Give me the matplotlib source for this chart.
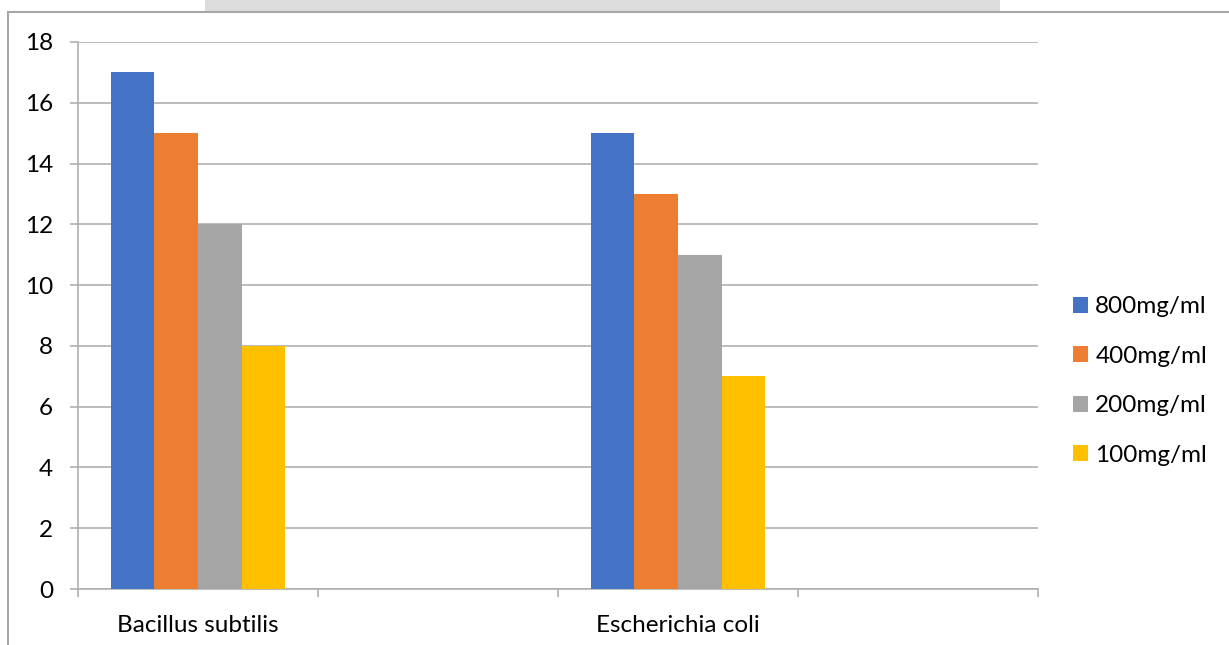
import matplotlib
matplotlib.use("Agg")
import matplotlib.pyplot as plt
from matplotlib.lines import Line2D
from matplotlib.patches import Rectangle, Patch
import numpy as np

categories = ["Bacillus subtilis", "", "Escherichia coli", ""]
series_names = ["800mg/ml", "400mg/ml", "200mg/ml", "100mg/ml"]
values_800 = [17, np.nan, 15, np.nan]
values_400 = [15, np.nan, 13, np.nan]
values_200 = [12, np.nan, 11, np.nan]
values_100 = [8, np.nan, 7, np.nan]
colors = ["#4472C4", "#ED7D31", "#A5A5A5", "#FFC000"]
y_ticks = [0, 2, 4, 6, 8, 10, 12, 14, 16, 18]

plt.rcParams['font.family'] = ['Lato', 'DejaVu Sans']

W, H = 1229, 645
fig = plt.figure(figsize=(W / 100, H / 100), dpi=100)

# decorative frame and watermark band from the source page
fig.add_artist(Rectangle((205 / W, 1 - 12 / H), (1000 - 205) / W, 12 / H,
                         transform=fig.transFigure, color="#dcdcdc", lw=0, zorder=0))
fig.add_artist(Line2D([8 / W, 1], [1 - 12 / H, 1 - 12 / H], transform=fig.transFigure,
                      color="#a6a6a6", lw=1.5))
fig.add_artist(Line2D([8 / W, 8 / W], [0, 1 - 12 / H], transform=fig.transFigure,
                      color="#a6a6a6", lw=1.5))

ax = fig.add_axes([78 / W, 56 / H, (1038 - 78) / W, (589 - 42) / H])

x = np.arange(len(categories))
w = 0.182
series = [values_800, values_400, values_200, values_100]
for i, (vals, c, name) in enumerate(zip(series, colors, series_names)):
    ax.bar(x + (i - 1.5) * w, vals, width=w, color=c, label=name, zorder=3, linewidth=0)

ax.set_xlim(-0.5, len(categories) - 0.5)
ax.set_ylim(0, 18)
ax.set_yticks(y_ticks)
ax.yaxis.grid(True, color="#b0b0b0", lw=1.2, zorder=0)
ax.set_axisbelow(True)

ax.set_xticks(x)
ax.set_xticklabels(categories)
ax.set_xticks(np.arange(-0.5, len(categories)), minor=True)
ax.tick_params(axis="x", which="major", length=0, pad=19, labelsize=17.5)
ax.tick_params(axis="x", which="minor", length=6, color="#b0b0b0", width=1.2)
ax.tick_params(axis="y", length=6, color="#b0b0b0", width=1.2, pad=12, labelsize=17.5)

for s in ["top", "right"]:
    ax.spines[s].set_visible(False)
ax.spines["left"].set_color("#b0b0b0")
ax.spines["left"].set_linewidth(1.2)
ax.spines["bottom"].set_color("#b0b0b0")
ax.spines["bottom"].set_linewidth(1.2)

handles = [Patch(facecolor=c, edgecolor="none") for c in colors]
leg = fig.legend(handles, series_names, loc="center left",
                 bbox_to_anchor=(1051 / W, 1 - 381 / H), frameon=False,
                 fontsize=17.5, handlelength=0.62, handleheight=0.62,
                 handletextpad=0.3, labelspacing=1.17)

fig.savefig("out.png", dpi=100)
